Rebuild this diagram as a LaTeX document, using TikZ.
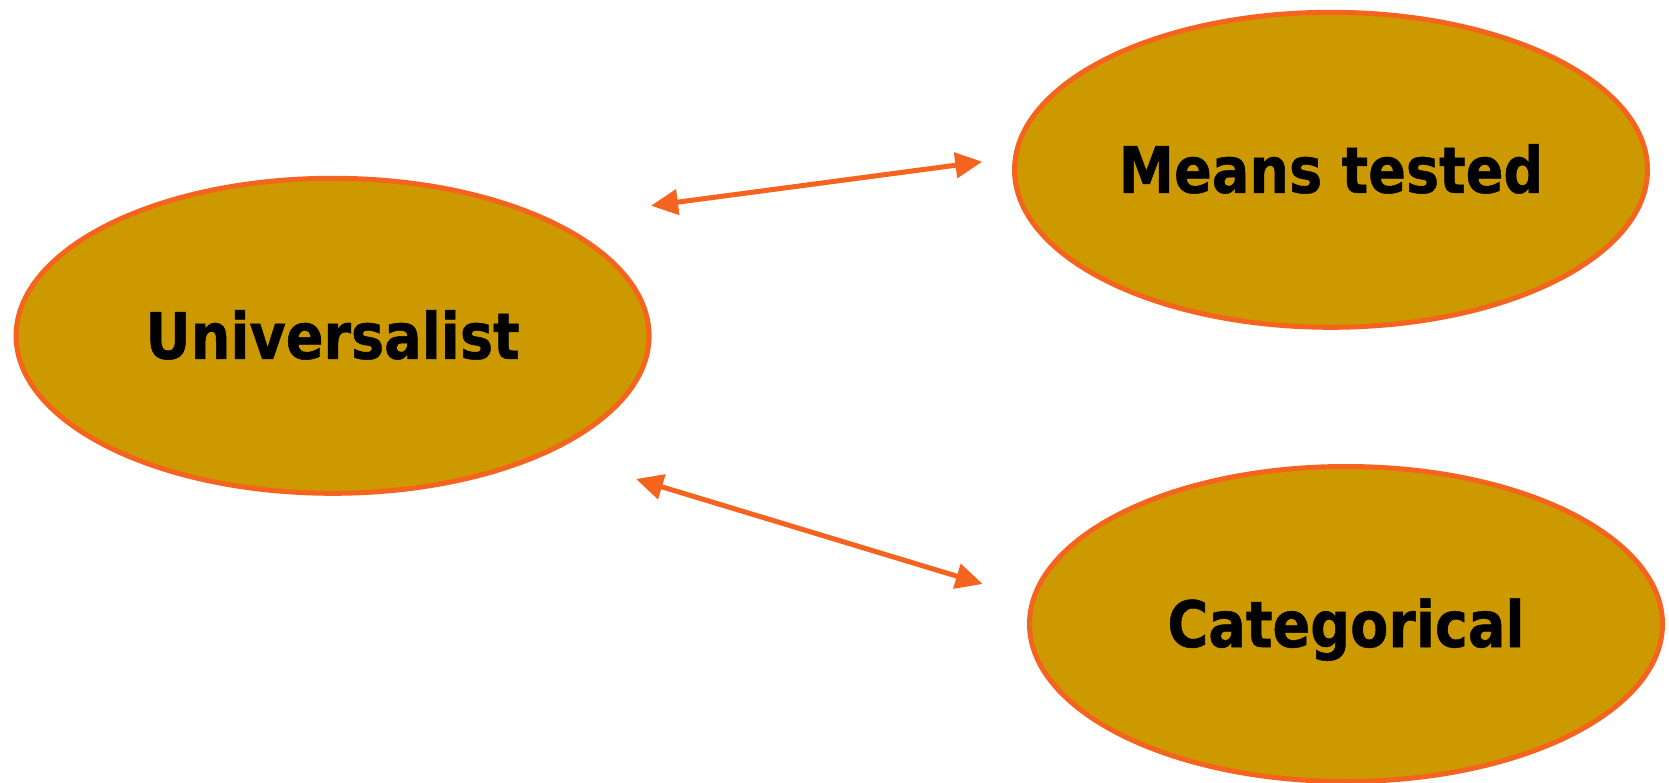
\documentclass[tikz,border=0pt]{standalone}
\usepackage{fontspec}
\setmainfont{DejaVu Sans}[BoldFont={DejaVu Sans Bold},BoldFeatures={FakeStretch=0.87,FakeBold=0.8}]
\usetikzlibrary{shapes.geometric,arrows.meta}
\definecolor{ellfill}{RGB}{204,153,0}
\definecolor{edge}{RGB}{245,100,30}
\tikzset{
  oval/.style={ellipse, draw=edge, line width=5pt, fill=ellfill, inner sep=0pt,
    minimum width=633pt, minimum height=315pt,
    font=\bfseries\fontsize{64pt}{64pt}\selectfont, text height=46pt, text depth=0pt},
  link/.style={draw=edge, line width=5pt, {Triangle[length=27pt,width=25pt]}-{Triangle[length=27pt,width=25pt]}}
}
\begin{document}
\begin{tikzpicture}[x=1pt,y=-1pt]
\useasboundingbox (0,0) rectangle (1669,783);
\node[oval] (uni) at (332.6,335.8) {Universalist};
\node[oval] (means) at (1331,169.8) {Means tested};
\node[oval] (cat) at (1346,624) {Categorical};
\coordinate (a1) at (651,205.7);
\coordinate (a2) at (982.3,161.7);
\coordinate (b1) at (636,479);
\coordinate (b2) at (982.7,584);
\draw[link] (a1) -- (a2);
\draw[link] (b1) -- (b2);
\end{tikzpicture}
\end{document}
